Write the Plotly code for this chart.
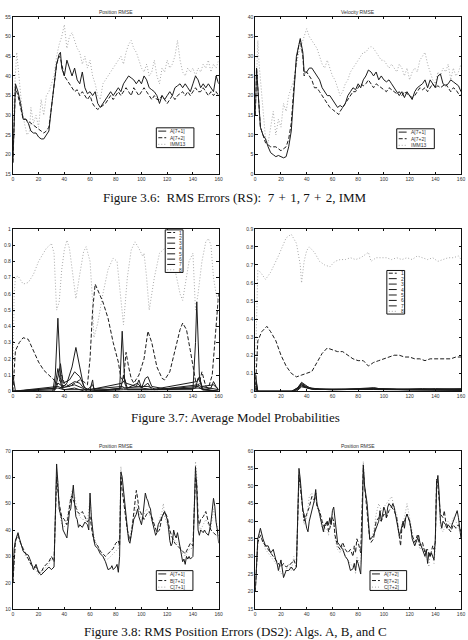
import plotly.graph_objects as go

W, H = 468, 640

# ---------------- DATA ----------------
TIME_TICKS = [0, 20, 40, 60, 80, 100, 120, 140, 160]

# Figure 3.6 left: Position RMSE (RS)
POS_RS_A71 = [(0,18),(1,30),(2,38),(4,36),(6,33),(8,29),(10,29),(12,28),(14,26),(16,25.5),(18,25.5),(20,24.5),(22,24),(24,24),(26,25),(28,26),(30,32),(32,38),(34,43),(36,45.5),(37,46),(38,42),(40,40),(42,44),(44,42),(46,40),(48,42),(50,39),(52,38),(54,41),(56,37),(58,35.5),(60,36),(62,35),(64,36),(66,33),(68,32),(70,33),(72,34),(74,35),(76,36),(78,35),(80,36),(82,37),(84,36),(86,38),(88,39),(90,40),(92,39.5),(94,39),(96,38),(98,39),(100,38),(102,40),(104,39),(106,37),(108,36.5),(110,36),(112,35),(114,33),(116,35),(118,34),(120,35),(122,36),(124,35),(126,37),(128,37.5),(130,38),(132,37),(134,38),(136,37),(138,36),(140,38),(142,40),(144,39),(146,37),(148,38),(150,37),(152,38),(154,37),(156,36),(158,40),(160,38)]
POS_RS_A72 = [(0,18),(1,30),(2,37),(4,35),(6,32),(8,29),(10,29),(12,28.5),(14,28),(16,27.5),(18,27),(20,26.5),(22,26),(24,25.5),(26,26),(28,27),(30,32),(32,38),(34,43),(36,45),(37,44.5),(38,43),(40,40),(42,39),(44,38),(46,37),(48,36),(50,36.5),(52,35),(54,36),(56,35),(58,34),(60,35),(62,33),(64,32),(66,31.5),(68,32),(70,32.5),(72,33),(74,34),(76,35),(78,34),(80,35),(82,36),(84,35),(86,36),(88,37),(90,36),(92,35),(94,37),(96,36),(98,35),(100,36),(102,37),(104,36),(106,35),(108,34),(110,35),(112,34),(114,34),(116,35),(118,34),(120,33),(122,34),(124,35),(126,34),(128,35),(130,35.5),(132,36),(134,35),(136,36),(138,35),(140,36),(142,37),(144,36),(146,36),(148,37),(150,36),(152,35),(154,36),(156,35),(158,36),(160,35)]
POS_RS_IMM = [(0,18),(1,35),(3,46),(5,38),(7,32),(9,28),(11,25),(13,26),(14,32),(16,28),(18,30),(20,27),(22,34),(24,30),(26,35),(28,36),(30,38),(32,40),(34,45),(36,48),(38,50),(40,53),(42,47),(44,50),(46,51),(48,49),(50,47),(52,46),(54,43),(56,45),(58,42),(60,44),(62,40),(64,38),(66,35),(68,34),(70,38),(72,39),(74,40),(76,41),(78,42),(80,43),(82,44),(84,45),(86,43),(88,46),(90,48),(92,49),(94,47),(96,46),(98,44),(100,42),(102,41),(104,43),(106,40),(108,41),(110,44),(112,40),(114,38),(116,42),(118,41),(120,44),(122,42),(124,43),(126,45),(128,49),(130,44),(132,41),(134,40),(136,42),(138,41),(140,42),(142,40),(144,42),(146,41),(148,43),(150,42),(152,44),(154,41),(156,43),(158,42),(160,44)]

# Figure 3.6 right: Velocity RMSE (RS)
VEL_RS_A71 = [(0,15),(1,27),(2,22),(3,15),(4,12),(6,10),(8,9),(10,7),(12,5.5),(14,5),(16,4.5),(18,4.8),(20,4.5),(22,4.2),(24,4.5),(26,7),(28,11),(30,22),(32,30),(34,33),(35,34.5),(37,31),(38,26),(40,26),(42,27),(44,27),(46,26),(48,25),(50,24),(52,22),(54,21),(56,20),(58,20),(60,19),(62,18),(64,17),(66,17.5),(68,17),(70,18),(72,20),(74,21),(76,22),(78,21.5),(80,23),(82,22),(84,24),(86,25),(88,26.5),(90,26),(92,25),(94,26),(96,24),(98,25),(100,24),(102,23.5),(104,24),(106,23),(108,22),(110,21),(112,20),(114,21),(116,19.5),(118,21),(120,20),(122,19),(124,21),(126,22),(128,22.5),(130,23),(132,24),(134,22),(136,24),(138,23),(140,22),(142,25),(144,25.5),(146,23),(148,22.5),(150,23),(152,24),(154,23.5),(156,23),(158,22.5),(160,21)]
VEL_RS_A72 = [(0,15),(1,27),(2,22),(3,15),(4,12),(6,10),(8,8),(10,7.5),(12,7),(14,7),(16,7),(18,6.5),(20,6),(22,6.5),(24,7),(26,9),(28,13),(30,22),(32,29),(34,33),(35,34),(37,30),(38,25),(40,26),(42,25),(44,24),(46,22),(48,22),(50,21),(52,20),(54,19),(56,18),(58,17),(60,16.5),(62,16),(64,15.5),(65,15.2),(66,16),(68,17),(70,18),(72,19),(74,20),(76,21),(78,21),(80,22),(82,23),(84,22.5),(86,23),(88,24),(90,23),(92,22),(94,23),(96,22.5),(98,22),(100,21.5),(102,21),(104,22),(106,21.5),(108,21),(110,20.5),(112,21),(114,20),(116,21),(118,20.5),(120,20),(122,19.5),(124,20),(126,21),(128,22),(130,21.5),(132,22),(134,21),(136,22),(138,23),(140,22),(142,22.5),(144,22),(146,22.5),(148,23),(150,22),(152,21),(154,22),(156,21.5),(158,20.5),(160,20)]
VEL_RS_IMM = [(0,15),(2,34),(3,28),(5,20),(6,15),(8,9),(10,8),(12,12),(14,16),(16,10),(18,14),(20,12),(22,18),(24,16),(26,20),(28,22),(30,24),(32,28),(34,31),(36,33),(38,35),(40,37),(42,35),(44,34),(46,33),(48,32),(50,30),(52,28),(54,27),(56,29),(58,27),(60,25),(62,24),(64,22),(66,20),(68,21),(70,23),(72,24),(74,26),(76,27),(78,28),(80,29),(82,30),(84,31),(86,31),(88,32),(90,32.5),(92,32),(94,31),(96,30),(98,29),(100,29),(102,28),(104,27),(106,28),(108,27),(110,26),(112,28),(114,27),(116,25),(118,27),(120,24),(122,26),(124,27),(126,26),(128,29),(130,30),(132,31),(134,28),(136,26),(138,24),(140,23),(142,26),(144,25),(146,27),(148,26),(150,28),(152,24),(154,27),(156,25),(158,26),(160,28)]

# Figure 3.7 left: average model probabilities (models 1..8)
PROB_L = {
 "1": [(0,0),(2,0.25),(5,0.3),(8,0.33),(12,0.32),(16,0.25),(20,0.18),(24,0.13),(28,0.1),(32,0.07),(34,0.04),(36,0.06),(38,0.1),(40,0.05),(44,0.03),(48,0.05),(52,0.07),(55,0.06),(58,0.04),(60,0.2),(62,0.5),(64,0.66),(66,0.62),(70,0.55),(74,0.45),(78,0.3),(82,0.18),(84,0.08),(86,0.07),(88,0.24),(90,0.15),(92,0.08),(94,0.05),(98,0.1),(102,0.2),(105,0.37),(108,0.3),(112,0.15),(116,0.08),(118,0.07),(122,0.12),(126,0.25),(130,0.38),(132,0.42),(135,0.38),(138,0.25),(141,0.1),(143,0.02),(145,0.05),(147,0.12),(150,0.03),(152,0.02),(155,0.1),(158,0.4),(160,0.6)],
 "2": [(0,0.1),(2,0),(31,0),(33,0.1),(35,0.45),(37,0.1),(39,0.01),(60,0.01),(62,0.07),(63,0.01),(83,0.01),(85,0.37),(87,0.05),(89,0.01),(140,0.01),(142,0.3),(143,0.55),(145,0.1),(147,0.01),(160,0)],
 "3": [(0,0),(32,0),(35,0.14),(36,0.1),(38,0.02),(42,0.05),(46,0.15),(49,0.27),(52,0.15),(55,0.03),(58,0.01),(62,0.04),(64,0),(84,0.02),(86,0.1),(88,0.05),(96,0.03),(98,0.07),(100,0.02),(103,0.08),(105,0.09),(108,0.03),(115,0.02),(120,0.01),(142,0.02),(144,0.08),(146,0.05),(148,0.01),(154,0.02),(156,0.06),(158,0.03),(160,0.01)],
 "4": [(0,0),(33,0.02),(36,0.12),(37,0.17),(39,0.05),(44,0.07),(48,0.12),(52,0.09),(56,0.02),(60,0.01),(85,0.05),(87,0.07),(89,0.02),(97,0.05),(100,0.02),(105,0.05),(108,0.01),(143,0.06),(145,0.09),(147,0.03),(156,0.04),(160,0.01)],
 "5": [(0,0),(33,0.01),(35,0.05),(37,0.04),(42,0.03),(48,0.06),(52,0.05),(56,0.01),(85,0.03),(87,0.02),(98,0.03),(105,0.03),(112,0.01),(144,0.04),(146,0.03),(155,0.02),(160,0.01)],
 "6": [(0,0),(35,0.03),(38,0.02),(48,0.04),(54,0.02),(58,0),(86,0.02),(100,0.02),(110,0.01),(144,0.03),(148,0.01),(160,0)],
 "7": [(0,0),(35,0.02),(40,0.01),(48,0.02),(56,0),(86,0.01),(104,0.01),(144,0.02),(160,0)],
 "8": [(0,0.1),(1,0.6),(2,0.7),(4,0.71),(8,0.66),(12,0.67),(16,0.72),(20,0.8),(26,0.88),(30,0.91),(32,0.85),(34,0.5),(36,0.55),(38,0.75),(40,0.87),(42,0.93),(44,0.88),(47,0.7),(49,0.57),(52,0.72),(55,0.86),(57,0.89),(60,0.8),(62,0.55),(63,0.33),(66,0.42),(70,0.6),(74,0.75),(78,0.82),(81,0.8),(84,0.55),(86,0.41),(89,0.7),(92,0.87),(95,0.92),(98,0.88),(101,0.83),(102,0.85),(104,0.7),(106,0.5),(110,0.7),(114,0.85),(118,0.88),(122,0.85),(126,0.75),(130,0.6),(132,0.56),(134,0.65),(137,0.8),(140,0.85),(142,0.5),(144,0.6),(147,0.8),(150,0.92),(152,0.94),(154,0.9),(156,0.7),(158,0.6),(160,0.55)],
}

# Figure 3.7 right
PROB_R = {
 "1": [(0,0),(2,0.28),(5,0.33),(9,0.36),(12,0.33),(16,0.28),(20,0.2),(24,0.14),(28,0.1),(32,0.08),(36,0.09),(40,0.1),(44,0.11),(48,0.16),(52,0.21),(56,0.24),(60,0.23),(64,0.22),(68,0.22),(72,0.2),(76,0.18),(80,0.17),(84,0.17),(88,0.14),(92,0.16),(96,0.17),(100,0.18),(104,0.19),(108,0.2),(112,0.2),(116,0.19),(120,0.19),(124,0.18),(128,0.18),(132,0.17),(136,0.18),(140,0.18),(144,0.18),(148,0.18),(152,0.18),(156,0.19),(160,0.19)],
 "2": [(0,0.1),(2,0),(28,0),(33,0.02),(36,0.05),(38,0.04),(42,0.02),(50,0.012),(70,0.01),(80,0.015),(92,0.02),(96,0.015),(110,0.012),(130,0.015),(140,0.012),(160,0.015)],
 "3": [(0,0.08),(2,0),(29,0),(33,0.02),(36,0.045),(39,0.03),(44,0.015),(60,0.01),(80,0.012),(93,0.018),(100,0.012),(120,0.01),(140,0.015),(160,0.012)],
 "4": [(0,0.05),(2,0),(30,0),(34,0.02),(36,0.04),(40,0.02),(50,0.01),(90,0.015),(120,0.008),(160,0.01)],
 "5": [(0,0.03),(2,0),(30,0),(36,0.035),(42,0.015),(60,0.008),(92,0.014),(160,0.008)],
 "6": [(0,0.02),(2,0),(31,0),(36,0.03),(44,0.012),(94,0.012),(160,0.006)],
 "7": [(0,0.01),(2,0),(32,0),(36,0.025),(46,0.01),(92,0.01),(160,0.005)],
 "8": [(0,0.1),(1,0.5),(2,0.67),(4,0.66),(8,0.62),(12,0.66),(18,0.75),(24,0.85),(28,0.87),(32,0.82),(35,0.7),(36,0.6),(38,0.72),(40,0.78),(42,0.8),(46,0.77),(50,0.72),(54,0.7),(58,0.69),(62,0.72),(66,0.73),(70,0.73),(74,0.74),(78,0.73),(82,0.74),(86,0.76),(88,0.77),(90,0.72),(94,0.74),(98,0.74),(102,0.74),(106,0.73),(110,0.74),(114,0.73),(118,0.74),(122,0.73),(126,0.75),(130,0.74),(134,0.73),(138,0.74),(142,0.72),(146,0.73),(150,0.74),(154,0.74),(158,0.75),(160,0.73)],
}

# Figure 3.8 left: Position RMSE (DS2), 7+1
POS_DS_A71 = [(0,20),(1,33),(2,36),(4,39),(5,37),(6,35),(8,32),(10,31),(12,30.5),(14,28),(16,25),(18,27),(20,24),(22,23),(24,24),(26,25),(28,26),(30,25),(32,26),(33,45),(34,65),(35,58),(36,48),(38,44),(39,40),(41,38),(42,37),(43,42),(44,47),(45,48),(46,53),(47,57),(48,50),(49,45),(50,44),(51,41),(52,42),(54,41),(56,43),(58,42),(59,40),(60,54),(61,45),(62,40),(63,36),(64,34),(66,33),(68,31),(70,30),(72,28),(74,25),(76,25.5),(77,26.5),(78,25),(80,26),(81,27),(82,24),(83,30),(84,62),(85,60),(87,50),(89,40),(90,36),(91,35),(92,38),(93,40),(94,44),(96,46),(97,48),(98,45),(100,42),(101,45),(102,50),(103,54),(104,52),(105,51),(106,49),(107,48),(108,44),(110,40),(111,38),(112,39),(113,42),(115,44),(116,45),(117,46),(118,47),(120,44),(121,41),(122,36),(123,34),(124,35),(125,40),(126,38),(127,37),(128,39),(129,36),(130,33),(132,28),(133,29),(134,27),(135,30),(136,29),(137,30),(138,29),(140,30),(141,45),(142,64),(143,55),(144,40),(145,38),(146,40),(148,39),(149,40),(150,39),(152,38),(153,40),(154,43),(156,52),(157,49),(158,43),(159,40),(160,35)]
POS_DS_B71 = [(0,20),(2,36),(4,38),(6,35),(8,33),(10,31),(12,29),(14,27),(16,26),(18,26),(20,24),(22,24),(24,26),(26,27),(28,28),(30,30),(32,28),(34,60),(35,55),(36,50),(38,45),(40,44),(42,42),(44,48),(45,52),(46,53),(48,50),(50,47),(52,46),(54,47),(56,45),(58,43),(60,45),(61,42),(62,38),(64,35),(66,34),(68,32),(70,31),(72,30),(74,31),(76,32),(78,33),(80,35),(82,36),(83,34),(84,60),(85,55),(87,47),(89,40),(90,38),(91,36),(92,38),(93,42),(94,47),(95,52),(96,55),(97,52),(98,48),(100,46),(102,44),(104,46),(106,47),(108,45),(110,42),(112,39),(114,40),(116,45),(118,47),(120,45),(122,40),(124,37),(126,35),(128,34),(130,33),(132,32),(134,31),(136,33),(138,35),(140,34),(142,60),(143,58),(144,45),(145,42),(146,44),(148,45),(150,47),(152,43),(154,40),(156,39),(158,38),(160,38)]
POS_DS_C71 = [(0,20),(2,35),(4,38),(6,35),(8,32),(10,30),(12,29),(14,27),(16,25),(18,25),(20,23),(22,23),(24,25),(26,26),(28,27),(30,29),(32,28),(34,62),(35,58),(36,48),(38,42),(40,41),(42,44),(44,50),(46,55),(48,53),(50,48),(52,45),(54,44),(56,44),(58,43),(60,52),(61,44),(62,40),(64,36),(66,34),(68,32),(70,30),(72,29),(74,29),(76,30),(78,31),(80,32),(82,33),(83,38),(84,64),(85,58),(87,48),(89,40),(90,37),(91,37),(92,40),(94,45),(96,49),(97,50),(98,47),(100,44),(102,46),(104,48),(106,46),(108,44),(110,41),(112,40),(114,44),(116,47),(117,50),(118,45),(120,42),(122,38),(124,37),(126,36),(128,35),(130,34),(132,31),(134,30),(136,32),(138,33),(140,33),(142,66),(143,60),(144,43),(146,40),(148,42),(150,44),(152,42),(154,41),(156,48),(158,44),(160,39)]

# Figure 3.8 right: Position RMSE (DS2), 7+2
POS_DS_A72 = [(0,20),(2,35),(4,38),(6,35),(8,33),(10,33),(12,31),(14,32),(16,29),(17,28),(18,26),(20,29),(22,24),(24,26),(26,26),(28,27),(30,26),(32,27),(34,55),(35,52),(37,43),(38,42),(40,38),(41,37),(42,40),(44,43),(46,46),(47,49),(48,45),(50,42),(52,38),(53,37),(54,39),(56,40),(57,39),(58,41),(59,39),(60,43),(61,44),(62,41),(64,34),(66,33),(68,32),(69,31),(70,30),(72,29),(74,26),(76,26.5),(77,28),(78,26),(79,29),(80,28),(82,25),(83,35),(84,56),(85,50),(87,45),(88,40),(89,35),(90,35),(92,36),(94,38),(96,40),(97,43),(98,40),(99,42),(100,44),(101,43),(102,41),(103,44),(104,45),(106,44),(107,45),(108,44),(109,42),(110,40),(112,36),(113,37),(114,39),(115,40),(116,38),(117,41),(118,42),(120,40),(121,38),(122,35),(124,33),(125,34),(126,35),(127,36),(128,34),(129,33),(130,32),(132,30),(133,32),(134,28),(135,31),(136,30),(137,31),(138,30),(139,29),(140,35),(141,50),(142,53),(143,48),(144,40),(145,38),(146,40),(148,39),(149,38),(150,39),(152,38),(154,40),(155,41),(156,42),(157,43),(158,41),(159,37),(160,35)]
POS_DS_B72 = [(0,20),(2,34),(4,36),(6,34),(8,33),(10,32),(12,31),(14,30),(16,29),(18,28),(20,27),(22,28),(24,27),(26,27.5),(28,28),(30,29),(32,27),(34,53),(35,50),(37,44),(38,40),(40,42),(42,44),(44,47),(46,46),(47,48),(48,44),(50,43),(52,40),(54,38),(56,40),(57,37),(58,38),(60,41),(61,40),(62,36),(64,33),(66,32),(68,34),(70,32),(72,31),(74,32),(76,30),(77,33),(78,31),(79,35),(80,34),(82,31),(84,55),(85,50),(87,43),(88,38),(89,35),(90,34),(92,35),(94,40),(96,41),(98,40),(100,42),(102,41),(104,43),(106,44),(108,43),(110,41),(112,35),(113,33),(114,38),(116,40),(118,42),(120,40),(122,36),(124,34),(126,36),(128,33),(130,34),(132,31),(134,32),(136,30),(138,33),(139,32),(140,34),(141,52),(142,50),(143,46),(144,42),(146,41),(147,43),(148,40),(150,38),(152,37),(154,39),(156,38),(158,39),(160,37)]
POS_DS_C72 = [(0,20),(2,35),(4,37),(6,34),(8,32),(10,31),(12,30),(14,29),(16,28),(18,27),(20,25),(22,26),(24,26),(26,28),(28,26),(30,30),(32,28),(34,54),(35,51),(37,43),(38,39),(40,41),(42,47),(44,48),(46,45),(47,47),(48,45),(50,41),(52,38),(54,37),(56,38),(57,36),(58,39),(60,42),(61,40),(62,35),(64,32),(66,31),(68,33),(70,30),(72,29),(74,28),(76,27),(77,28),(78,25),(79,30),(80,29),(82,28),(84,57),(85,50),(87,44),(88,40),(89,36),(90,35),(92,37),(94,42),(96,45),(98,43),(100,44),(102,45),(104,46),(106,47),(108,44),(110,42),(112,36),(113,36),(114,39),(116,41),(118,45),(119,43),(120,41),(122,37),(124,33),(126,35),(128,32),(130,33),(132,30),(134,29),(135,27),(136,31),(138,30),(139,28),(140,33),(141,52),(142,51),(143,45),(144,38),(146,37),(148,39),(150,40),(152,39),(154,41),(156,40),(158,38),(160,36)]

# ---------------- STYLE ----------------
BLACK = "#1c1c1c"
GRAY = "#a8a8a8"
DASH = "4px,2px"
DOT = "1px,2px"
SOLID = "solid"
TICKFONT = dict(family="Liberation Sans, Arial", size=5, color="#333")
CAPFONT = dict(family="Liberation Serif, Times New Roman", size=13, color="#111")

# panel pixel boxes: (left, right, top, bottom)
PANELS = [
    (12, 220, 14, 173),
    (257, 465, 14, 173),
    (12, 220, 228, 392),
    (257, 465, 228, 392),
    (12, 220, 452, 612),
    (257, 465, 452, 612),
]
YRANGES = [(15, 55), (0, 40), (0, 1), (0, 0.9), (10, 70), (15, 60)]
YDTICK = [5, 5, 0.1, 0.1, 10, 5]
TITLES = ["Position RMSE", "Velocity RMSE", None, None, "Position RMSE", "Position RMSE"]


def px(x):
    return x / W


def py(y):
    return 1 - y / H


fig = go.Figure()


def add_series(panel, pairs, color, dash, width=1.0):
    ax = "" if panel == 0 else str(panel + 1)
    fig.add_trace(go.Scatter(
        x=[p[0] for p in pairs], y=[p[1] for p in pairs], mode="lines",
        line=dict(color=color, dash=dash, width=width),
        xaxis="x" + ax, yaxis="y" + ax, showlegend=False, hoverinfo="skip"))


# Fig 3.6
add_series(0, POS_RS_IMM, GRAY, DOT)
add_series(0, POS_RS_A72, BLACK, DASH)
add_series(0, POS_RS_A71, BLACK, SOLID)
add_series(1, VEL_RS_IMM, GRAY, DOT)
add_series(1, VEL_RS_A72, BLACK, DASH)
add_series(1, VEL_RS_A71, BLACK, SOLID)

# Fig 3.7
MODEL_STYLE = {"1": (BLACK, DASH), "8": (GRAY, DOT)}
for k in ["8", "1", "7", "6", "5", "4", "3", "2"]:
    c, d = MODEL_STYLE.get(k, (BLACK, SOLID))
    add_series(2, PROB_L[k], c, d)
    add_series(3, PROB_R[k], c, d)

# Fig 3.8
add_series(4, POS_DS_C71, GRAY, DOT)
add_series(4, POS_DS_B71, BLACK, DASH)
add_series(4, POS_DS_A71, BLACK, SOLID)
add_series(5, POS_DS_C72, GRAY, DOT)
add_series(5, POS_DS_B72, BLACK, DASH)
add_series(5, POS_DS_A72, BLACK, SOLID)

layout = dict(width=W, height=H, margin=dict(l=0, r=0, t=0, b=0),
              paper_bgcolor="white", plot_bgcolor="white", showlegend=False)
annotations = []
shapes = []
for i, (l, r, t, b) in enumerate(PANELS):
    ax = "" if i == 0 else str(i + 1)
    common = dict(showline=True, linecolor="#111", linewidth=1, mirror="allticks",
                  ticks="inside", ticklen=2.5, tickcolor="#111", tickwidth=0.8,
                  showgrid=False, zeroline=False, tickfont=TICKFONT, fixedrange=True)
    layout["xaxis" + ax] = dict(domain=[px(l), px(r)], anchor="y" + ax, range=[0, 160],
                                tickvals=TIME_TICKS, ticklabelstandoff=0, **common)
    layout["yaxis" + ax] = dict(domain=[py(b), py(t)], anchor="x" + ax, range=list(YRANGES[i]),
                                dtick=YDTICK[i], tick0=YRANGES[i][0], **common)
    if TITLES[i]:
        annotations.append(dict(text=TITLES[i], x=px((l + r) / 2), y=py(t - 5), xref="paper", yref="paper",
                                showarrow=False, font=TICKFONT, xanchor="center", yanchor="middle"))


def legend(box, items):
    x0, y0, x1, y1 = box
    shapes.append(dict(type="rect", xref="paper", yref="paper", x0=px(x0), x1=px(x1), y0=py(y1), y1=py(y0),
                       line=dict(color="#111", width=1), fillcolor="white", layer="above"))
    n = len(items)
    step = (y1 - y0) / n
    for j, (name, color, dash) in enumerate(items):
        yc = y0 + step * (j + 0.5)
        shapes.append(dict(type="line", xref="paper", yref="paper", x0=px(x0 + 2), x1=px(x0 + 10),
                           y0=py(yc), y1=py(yc), line=dict(color=color, width=1, dash=dash), layer="above"))
        annotations.append(dict(text=name, x=px(x0 + 12), y=py(yc), xref="paper", yref="paper", showarrow=False,
                                font=TICKFONT, xanchor="left", yanchor="middle"))


legend((157, 126, 195, 146), [("A[7+1]", BLACK, SOLID), ("A[7+2]", BLACK, DASH), ("IMM13", GRAY, DOT)])
legend((400, 127, 438, 147), [("A[7+1]", BLACK, SOLID), ("A[7+2]", BLACK, DASH), ("IMM13", GRAY, DOT)])
model_items = [(k, *MODEL_STYLE.get(k, (BLACK, SOLID))) for k in ["1", "2", "3", "4", "5", "6", "7", "8"]]
legend((166, 229, 184, 272), model_items)
legend((390, 270, 408, 314), model_items)
legend((157, 573, 194, 593), [("A[7+1]", BLACK, SOLID), ("B[7+1]", BLACK, DASH), ("C[7+1]", GRAY, DOT)])
legend((373, 573, 410, 593), [("A[7+2]", BLACK, SOLID), ("B[7+2]", BLACK, DASH), ("C[7+2]", GRAY, DOT)])

EN = "\u2002"
MS = "\u2004"
CAPTIONS = [
    ("Figure 3.6:" + EN + "RMS Errors (RS):" + EN + "7" + MS + "+" + MS + "1, 7" + MS + "+" + MS + "2, IMM", 196),
    ("Figure 3.7: Average Model Probabilities", 418),
    ("Figure 3.8: RMS Position Errors (DS2): Algs. A, B, and C", 634),
]
for text, yc in CAPTIONS:
    annotations.append(dict(text=text, x=px(237), y=py(yc), xref="paper", yref="paper", showarrow=False,
                            font=CAPFONT, xanchor="center", yanchor="middle"))

layout["annotations"] = annotations
layout["shapes"] = shapes
fig.update_layout(**layout)
fig.write_html("out.html")
